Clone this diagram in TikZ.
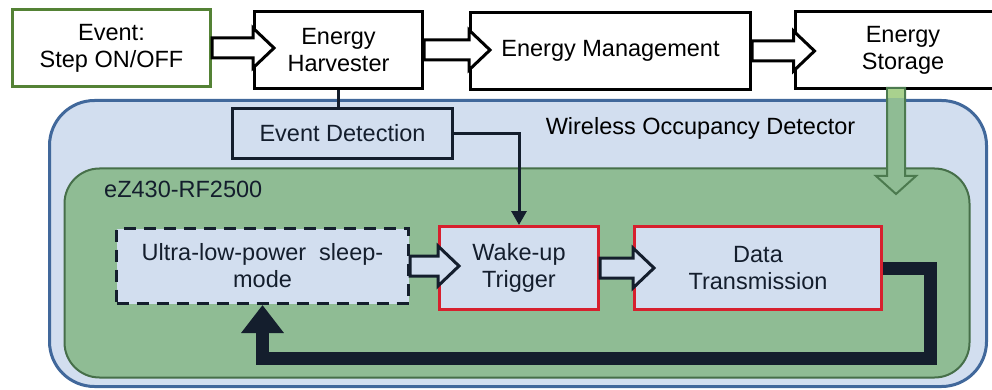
\documentclass[tikz,border=0pt]{standalone}
\usepackage{fontspec}
\setmainfont{Liberation Sans}
\usetikzlibrary{arrows.meta,calc}
\definecolor{lblue}{HTML}{D2DEEF}
\definecolor{oblue}{HTML}{41689B}
\definecolor{gfill}{HTML}{8FBC94}
\definecolor{gline}{HTML}{466F49}
\definecolor{navy}{HTML}{141E2D}
\definecolor{rred}{HTML}{D7202E}
\definecolor{evgreen}{HTML}{548235}
\definecolor{lgreen}{HTML}{A9D18E}
\definecolor{agline}{HTML}{4C7A4F}
\tikzset{
  every node/.style={font=\fontsize{23.5}{27}\selectfont, align=center, inner sep=0pt},
  topbox/.style={draw=black, line width=3pt, fill=white, text=black},
  evbox/.style={draw=evgreen, line width=3pt, fill=white, text=black},
  bluebox/.style={draw=navy, line width=3pt, fill=lblue, text=navy},
  redbox/.style={draw=rred, line width=3pt, fill=lblue, text=navy},
  dashbox/.style={draw=navy, line width=3pt, fill=lblue, text=navy, dash pattern=on 12pt off 8pt},
  hollowtop/.style={draw=black, line width=3pt, fill=white, line join=miter},
  hollowin/.style={draw=navy, line width=3pt, fill=lblue, line join=miter},
  thinarrow/.style={draw=navy, line width=3pt, -{Triangle[width=15pt,length=14pt]}},
  fbarrow/.style={draw=navy, line width=13pt, line join=miter, -{Triangle[width=41pt,length=28pt]}},
}
\newcommand\blkarrow[3]{%
  \path[#3] let \p1=(#1), \p2=(#2) in
    (\x1,\y1+10pt) -- (\x2,\y1+10pt) -- (\x2,\y1+20pt) -- (\x2+21pt,\y1)
    -- (\x2,\y1-20pt) -- (\x2,\y1-10pt) -- (\x1,\y1-10pt) -- cycle;}
\begin{document}
\begin{tikzpicture}[x=1pt,y=-1pt]
\useasboundingbox (0,0) rectangle (992,390);
\clip (0,0) rectangle (992,390);
% containers
\node[draw=oblue, line width=3pt, fill=lblue, rounded corners=45pt,
      minimum width=937pt, minimum height=286pt] (wod) at (518,243.5) {};
\node[draw=gline, line width=2pt, fill=gfill, rounded corners=35pt,
      minimum width=905pt, minimum height=209pt] (ez) at (517,273) {};
\node[text=black, anchor=center] (wodlabel) at (700.5,128) {Wireless Occupancy Detector};
\node[text=navy, anchor=west] (ezlabel) at (104,189) {eZ430-RF2500};
% top chain
\node[evbox, minimum width=198pt, minimum height=77pt] (ev) at (111.5,48) {Event:\\Step ON/OFF};
\node[topbox, minimum width=168pt, minimum height=77pt] (eh) at (338.5,50) {Energy\\Harvester};
\node[topbox, minimum width=280pt, minimum height=77pt] (em) at (610.5,51) {Energy Management};
\node[topbox, minimum width=216pt, minimum height=77pt] (es) at (903,50) {Energy\\Storage};
% event detection
\draw[navy, line width=3pt] (eh.south) -- (eh.south |- 0,110);
\node[bluebox, minimum width=220pt, minimum height=50pt] (ed) at (342.5,133.5) {Event Detection};
% inner boxes
\node[dashbox, minimum width=292pt, minimum height=75pt] (sl) at (262.5,266) {Ultra-low-power\ \ sleep-\\mode};
\node[redbox, minimum width=159pt, minimum height=83pt] (wt) at (519,268) {Wake-up\\Trigger};
\node[redbox, minimum width=247pt, minimum height=83pt] (dt) at (758,268) {Data\\Transmission};
% hollow arrows
\blkarrow{ev.east}{eh.west}{hollowtop}
\blkarrow{eh.east}{em.west}{hollowtop}
\blkarrow{em.east}{es.west}{hollowtop}
\blkarrow{sl.east}{wt.west}{hollowin}
\blkarrow{wt.east}{dt.west}{hollowin}
% event detection to wake-up
\draw[thinarrow] (ed.east) -| (wt.north);
% storage green arrow
\coordinate (gs) at ($(es.south)+(-7,0)$);
\coordinate (gt) at (896,194);
\path[draw=agline, line width=2pt, fill=gfill, line join=miter]
  (887,88) -- (905,88) -- (905,176) -- (916,176) -- (gt) -- (876,176) -- (887,176) -- cycle;
\fill[lgreen] (888,89) rectangle (904,98);
% feedback
\coordinate (c1) at (930,268);
\coordinate (c2) at (930,358);
\draw[fbarrow] (dt.east) -- (c1) -- (c2) -- (c2 -| sl.south) -- (sl.south);
\end{tikzpicture}
\end{document}
